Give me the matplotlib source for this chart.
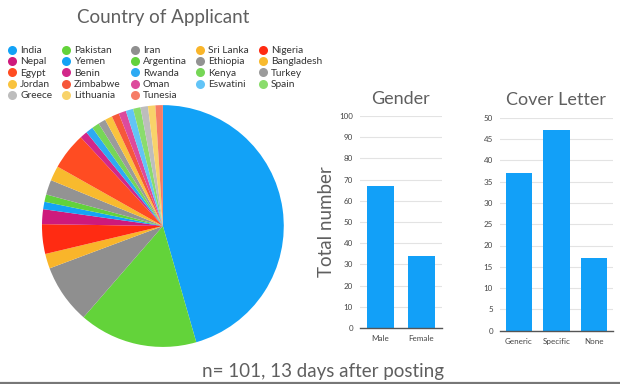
import matplotlib
matplotlib.use("Agg")
import matplotlib.pyplot as plt
from matplotlib.lines import Line2D

# ---- data ----
countries = ["India", "Pakistan", "Iran", "Sri Lanka", "Nigeria",
             "Nepal", "Yemen", "Argentina", "Ethiopia", "Bangladesh",
             "Egypt", "Benin", "Rwanda", "Kenya", "Turkey",
             "Jordan", "Zimbabwe", "Oman", "Eswatini", "Spain",
             "Greece", "Lithuania", "Tunesia"]
country_counts = [46, 16, 8, 2, 4,
                  2, 1, 1, 2, 2,
                  5, 1, 1, 1, 1,
                  1, 1, 1, 1, 1,
                  1, 1, 1]
country_colors = ["#12A2F7", "#63D33A", "#8F8F8F", "#F9B52A", "#FF2B12",
                  "#CE1A7C", "#14A3F5", "#62D23C", "#939393", "#F8BA2E",
                  "#FF4C22", "#D2288A", "#2DAAF3", "#76D656", "#9B9B9B",
                  "#F9C33E", "#F6573A", "#DD4A9C", "#62C4F7", "#8ADC6C",
                  "#BDBDBD", "#F8D36A", "#F67C66"]

gender_labels = ["Male", "Female"]
gender_counts = [67, 34]
gender_ticks = list(range(0, 101, 10))

cover_labels = ["Generic", "Specific", "None"]
cover_counts = [37, 47, 17]
cover_ticks = list(range(0, 51, 5))

bar_color = "#12A0F8"
title_color = "#5f5f5f"
tick_color = "#444444"
FONT = "Lato"

plt.rcParams['font.family'] = [FONT, 'DejaVu Sans']

fig = plt.figure(figsize=(6.2, 3.84), dpi=100)

# ---- pie ----
ax_pie = fig.add_axes([0.0677, 0.0964, 0.390, 0.630])
ax_pie.pie(country_counts, colors=country_colors, startangle=90,
           counterclock=False, wedgeprops=dict(linewidth=0), radius=1.0)
ax_pie.set_xlim(-1, 1)
ax_pie.set_ylim(-1, 1)
ax_pie.set_aspect('equal')

fig.text(163 / 620, 1 - 18 / 384, "Country of Applicant", ha='center', va='center',
         fontsize=13.5, color=title_color)

# legend (column-major order for matplotlib)
handles = [Line2D([0], [0], marker='o', linestyle='none', markersize=6.5,
                  markerfacecolor=c, markeredgecolor='none') for c in country_colors]
ncol = 5
order = []
for col in range(ncol):
    for row in range(5):
        idx = row * ncol + col
        if idx < len(countries):
            order.append(idx)
leg = fig.legend([handles[i] for i in order], [countries[i] for i in order],
                 ncol=ncol, loc='upper left', bbox_to_anchor=(7 / 620, 1 - 46 / 384),
                 frameon=False, fontsize=7.3, handletextpad=0.3, columnspacing=0.85,
                 labelspacing=0.22, handlelength=1.0, borderaxespad=0, borderpad=0)
for t in leg.get_texts():
    t.set_color("#333333")


def style_bar_axis(ax, ticks):
    ax.set_yticks(ticks)
    ax.set_ylim(ticks[0], ticks[-1])
    ax.yaxis.grid(True, color="#e3e3e3", linewidth=0.8)
    ax.set_axisbelow(True)
    for s in ['top', 'right', 'left']:
        ax.spines[s].set_visible(False)
    ax.spines['bottom'].set_color("#555555")
    ax.spines['bottom'].set_linewidth(1.0)
    ax.tick_params(axis='both', length=0, labelsize=5.8, colors=tick_color, pad=5)


# ---- gender ----
ax_g = fig.add_axes([360 / 620, 1 - 328 / 384, 82 / 620, 212 / 384])
ax_g.bar(gender_labels, gender_counts, width=0.68, color=bar_color)
ax_g.set_xlim(-0.5, 1.5)
style_bar_axis(ax_g, gender_ticks)
ax_g.set_title("Gender", fontsize=13, color=title_color, pad=9)
ax_g.set_ylabel("Total number", fontsize=13.5, color=title_color, labelpad=3)

# ---- cover letter ----
ax_c = fig.add_axes([500 / 620, 1 - 330.7 / 384, 113 / 620, 213 / 384])
ax_c.bar(cover_labels, cover_counts, width=0.70, color=bar_color)
ax_c.set_xlim(-0.5, 2.5)
style_bar_axis(ax_c, cover_ticks)
ax_c.set_title("Cover Letter", fontsize=13, color=title_color, pad=9)

fig.text(323 / 620, 1 - 371 / 384, "n= 101, 13 days after posting", ha='center',
         va='center', fontsize=13.5, color=title_color)

fig.add_artist(Line2D([0, 1], [1.2 / 384, 1.2 / 384], color="#777777", linewidth=1.6,
                      transform=fig.transFigure))

fig.savefig("out.png", dpi=100, facecolor="white")
